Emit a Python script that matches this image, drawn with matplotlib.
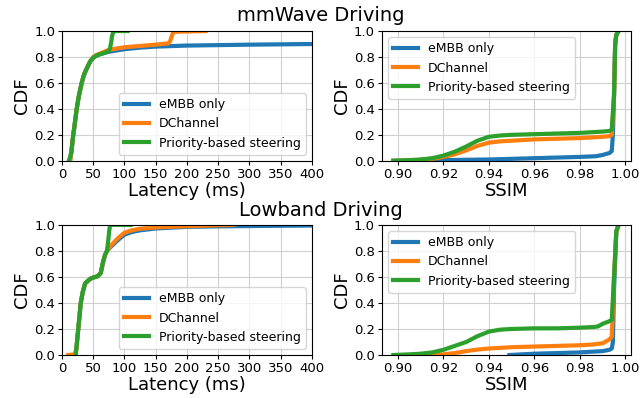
import matplotlib
matplotlib.use('Agg')
import matplotlib.pyplot as plt

labels = ['eMBB only', 'DChannel', 'Priority-based steering']
colors = ['#1f77b4', '#ff7f0e', '#2ca02c']

# mmWave latency (ms) / CDF
mm_lat_embb_x = [13, 15, 18, 20, 23.5, 27, 31.5, 35, 38.5, 45, 50, 55, 60, 67, 75, 87, 100, 125, 150, 200, 300, 400]
mm_lat_embb_y = [0.0, 0.07, 0.2, 0.27, 0.4, 0.5, 0.6, 0.66, 0.7, 0.765, 0.795, 0.81, 0.82, 0.83, 0.84, 0.85, 0.86, 0.872, 0.88, 0.888, 0.895, 0.90]
mm_lat_dch_x = [13, 15, 18, 20, 23.5, 27, 31.5, 35, 38.5, 45, 50, 55, 60, 67, 75, 87, 100, 125, 150, 170, 173, 175, 178, 185, 230]
mm_lat_dch_y = [0.0, 0.07, 0.2, 0.27, 0.4, 0.5, 0.6, 0.66, 0.7, 0.765, 0.8, 0.815, 0.825, 0.84, 0.855, 0.865, 0.875, 0.885, 0.895, 0.905, 0.92, 0.95, 0.99, 0.995, 1.0]
mm_lat_pri_x = [11, 13, 15, 18, 20, 23.5, 27, 31.5, 35, 38.5, 45, 50, 55, 60, 67, 75, 77, 79, 80, 82, 85, 105]
mm_lat_pri_y = [0.0, 0.03, 0.07, 0.2, 0.27, 0.4, 0.5, 0.6, 0.66, 0.7, 0.765, 0.795, 0.81, 0.82, 0.83, 0.845, 0.87, 0.92, 0.96, 0.99, 1.0, 1.0]

# mmWave SSIM / CDF
mm_ssim_embb_x = [0.898, 0.91, 0.92, 0.93, 0.94, 0.95, 0.96, 0.97, 0.98, 0.987, 0.99, 0.992, 0.993, 0.994, 0.9945, 0.995, 0.9955, 0.996, 0.997]
mm_ssim_embb_y = [0.0, 0.002, 0.005, 0.008, 0.01, 0.015, 0.02, 0.025, 0.03, 0.035, 0.045, 0.055, 0.06, 0.075, 0.2, 0.5, 0.9, 0.97, 1.0]
mm_ssim_dch_x = [0.898, 0.905, 0.91, 0.915, 0.92, 0.925, 0.93, 0.935, 0.94, 0.945, 0.95, 0.96, 0.97, 0.98, 0.99, 0.993, 0.994, 0.995, 0.9955, 0.996, 0.997]
mm_ssim_dch_y = [0.0, 0.003, 0.008, 0.015, 0.03, 0.05, 0.08, 0.115, 0.14, 0.15, 0.155, 0.165, 0.17, 0.175, 0.185, 0.19, 0.2, 0.5, 0.9, 0.97, 1.0]
mm_ssim_pri_x = [0.898, 0.905, 0.91, 0.915, 0.92, 0.925, 0.93, 0.935, 0.94, 0.945, 0.95, 0.96, 0.97, 0.98, 0.99, 0.993, 0.994, 0.995, 0.9955, 0.996, 0.997]
mm_ssim_pri_y = [0.0, 0.005, 0.01, 0.02, 0.04, 0.07, 0.11, 0.155, 0.185, 0.195, 0.2, 0.205, 0.21, 0.215, 0.225, 0.23, 0.24, 0.5, 0.9, 0.97, 1.0]

# Lowband latency (ms) / CDF
lb_lat_embb_x = [21, 23, 26, 30, 33, 37, 45, 50, 57, 62, 66, 69, 72, 80, 90, 100, 112, 125, 150, 200, 275, 400]
lb_lat_embb_y = [0.0, 0.05, 0.2, 0.4, 0.48, 0.55, 0.585, 0.595, 0.605, 0.63, 0.72, 0.77, 0.80, 0.84, 0.885, 0.925, 0.945, 0.958, 0.972, 0.985, 0.99, 0.995]
lb_lat_dch_x = [10, 19, 21, 23, 26, 30, 33, 37, 45, 50, 57, 62, 66, 69, 72, 80, 90, 100, 112, 125, 150, 200, 275]
lb_lat_dch_y = [0.0, 0.005, 0.01, 0.05, 0.2, 0.4, 0.48, 0.55, 0.585, 0.595, 0.605, 0.63, 0.72, 0.77, 0.80, 0.85, 0.9, 0.94, 0.958, 0.97, 0.98, 0.99, 1.0]
lb_lat_pri_x = [22, 23, 26, 30, 33, 37, 45, 50, 57, 62, 66, 69, 72, 74, 75.5, 77, 110]
lb_lat_pri_y = [0.0, 0.05, 0.2, 0.4, 0.48, 0.55, 0.585, 0.595, 0.605, 0.63, 0.72, 0.77, 0.80, 0.88, 0.95, 1.0, 1.0]

# Lowband SSIM / CDF
lb_ssim_embb_x = [0.949, 0.96, 0.97, 0.98, 0.99, 0.993, 0.994, 0.9945, 0.995, 0.996, 0.997]
lb_ssim_embb_y = [0.0, 0.01, 0.015, 0.02, 0.03, 0.04, 0.05, 0.1, 0.5, 0.95, 1.0]
lb_ssim_dch_x = [0.91, 0.92, 0.925, 0.93, 0.935, 0.94, 0.95, 0.96, 0.97, 0.98, 0.985, 0.99, 0.993, 0.994, 0.9945, 0.995, 0.996, 0.997]
lb_ssim_dch_y = [0.0, 0.005, 0.015, 0.03, 0.042, 0.05, 0.06, 0.065, 0.07, 0.075, 0.08, 0.09, 0.12, 0.14, 0.35, 0.6, 0.95, 1.0]
lb_ssim_pri_x = [0.898, 0.905, 0.91, 0.915, 0.92, 0.925, 0.93, 0.935, 0.94, 0.945, 0.95, 0.96, 0.97, 0.98, 0.986, 0.988, 0.99, 0.993, 0.994, 0.995, 0.996, 0.997]
lb_ssim_pri_y = [0.0, 0.005, 0.01, 0.02, 0.04, 0.07, 0.10, 0.145, 0.18, 0.195, 0.2, 0.205, 0.205, 0.21, 0.215, 0.22, 0.24, 0.26, 0.27, 0.6, 0.95, 1.0]

fig = plt.figure(figsize=(6.42, 3.98), dpi=100)
ax_ml = fig.add_axes([0.0966, 0.596, 0.389, 0.326])
ax_ms = fig.add_axes([0.595, 0.596, 0.388, 0.326])
ax_ll = fig.add_axes([0.0966, 0.108, 0.389, 0.327])
ax_ls = fig.add_axes([0.595, 0.108, 0.388, 0.327])

panels = [
    (ax_ml, [(mm_lat_embb_x, mm_lat_embb_y), (mm_lat_dch_x, mm_lat_dch_y), (mm_lat_pri_x, mm_lat_pri_y)], 'Latency (ms)', 'lower right'),
    (ax_ms, [(mm_ssim_embb_x, mm_ssim_embb_y), (mm_ssim_dch_x, mm_ssim_dch_y), (mm_ssim_pri_x, mm_ssim_pri_y)], 'SSIM', 'upper left'),
    (ax_ll, [(lb_lat_embb_x, lb_lat_embb_y), (lb_lat_dch_x, lb_lat_dch_y), (lb_lat_pri_x, lb_lat_pri_y)], 'Latency (ms)', 'lower right'),
    (ax_ls, [(lb_ssim_embb_x, lb_ssim_embb_y), (lb_ssim_dch_x, lb_ssim_dch_y), (lb_ssim_pri_x, lb_ssim_pri_y)], 'SSIM', 'upper left'),
]

for ax, series, xlabel, loc in panels:
    for (x, y), c, lab in zip(series, colors, labels):
        ax.plot(x, y, color=c, lw=3, label=lab)
    ax.set_ylim(0, 1)
    ax.set_yticks([0, 0.2, 0.4, 0.6, 0.8, 1.0])
    ax.grid(True, color='#d0d0d0')
    ax.set_axisbelow(True)
    ax.set_xlabel(xlabel, fontsize=13, labelpad=1)
    ax.set_ylabel('CDF', fontsize=13, labelpad=2)
    ax.tick_params(labelsize=9.5, length=3, pad=2)
    ax.legend(loc=loc, fontsize=9)

for ax in (ax_ml, ax_ll):
    ax.set_xlim(0, 400)
    ax.set_xticks(range(0, 401, 50))
for ax in (ax_ms, ax_ls):
    ax.set_xlim(0.893, 1.0025)
    ax.set_xticks([0.90, 0.92, 0.94, 0.96, 0.98, 1.00])
    ax.set_xticklabels(['0.90', '0.92', '0.94', '0.96', '0.98', '1.00'])

fig.text(0.5, 0.962, 'mmWave Driving', ha='center', va='center', fontsize=14)
fig.text(0.5, 0.472, 'Lowband Driving', ha='center', va='center', fontsize=14)

fig.savefig('out.png', dpi=100)
